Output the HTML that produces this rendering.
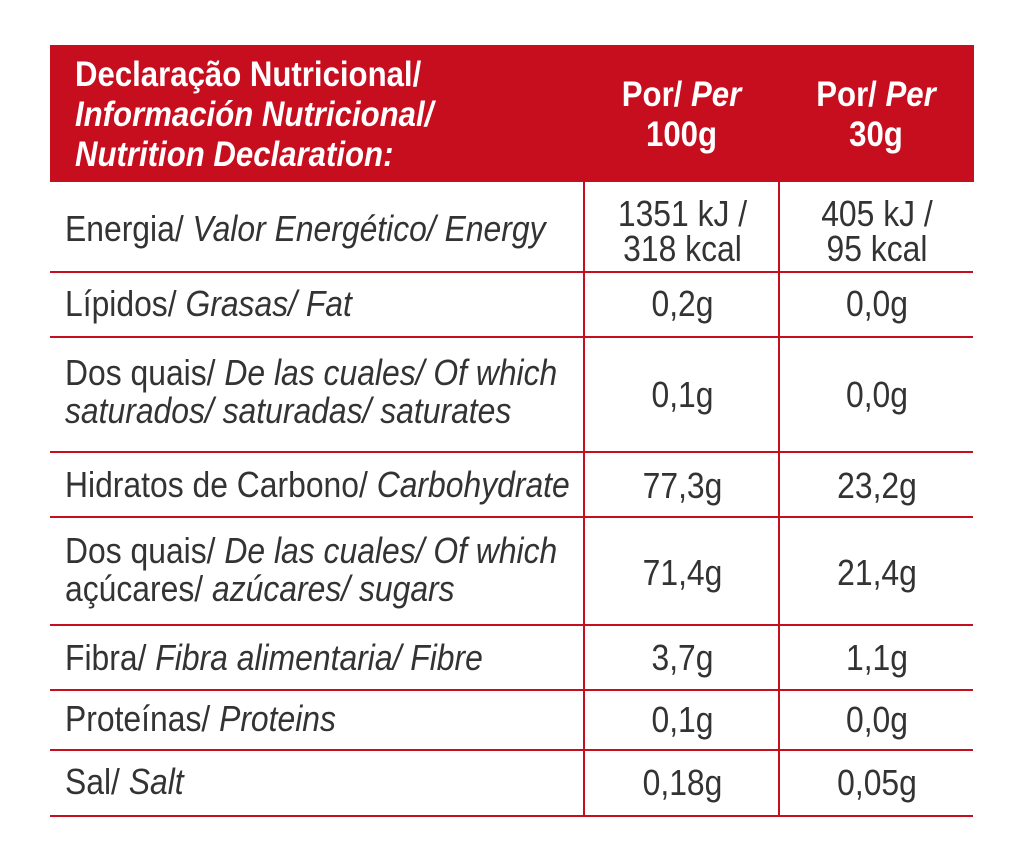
<!DOCTYPE html>
<html><head><meta charset="utf-8"><style>
body{margin:0;background:#fff;width:1024px;height:863px;position:relative;overflow:hidden;font-family:"Liberation Sans",sans-serif;color:#333}
.hdr{position:absolute;left:50px;top:45px;width:924px;height:137px;background:#c70e1f}
.h{position:absolute;color:#fff;font-weight:bold;font-size:35px;line-height:40px;white-space:nowrap}
.hl{position:absolute;left:50px;width:923px;height:2px;background:#c70e1f}
.vl{position:absolute;top:182px;height:634px;width:2px;background:#c70e1f}
.t{position:absolute;left:65px;font-size:36px;line-height:38px;white-space:nowrap;transform:scaleX(0.885);transform-origin:0 0}
.c{position:absolute;font-size:36px;line-height:35px;text-align:center;white-space:nowrap;transform:scaleX(0.885)}
i{font-style:italic}
</style></head><body>
<div class="hdr"></div>
<div class="h" style="left:75px;top:55px;transform:scaleX(0.89);transform-origin:0 0">Declaração Nutricional/<br><i>Información Nutricional/<br>Nutrition Declaration:</i></div>
<div class="h" style="left:584px;width:195px;text-align:center;top:75px;transform:scaleX(0.89)">Por/ <i>Per</i><br>100g</div>
<div class="h" style="left:779px;width:194px;text-align:center;top:75px;transform:scaleX(0.89)">Por/ <i>Per</i><br>30g</div>
<div class="vl" style="left:583px"></div>
<div class="vl" style="left:778px"></div>
<div class="hl" style="top:271px"></div>
<div class="hl" style="top:336px"></div>
<div class="hl" style="top:451px"></div>
<div class="hl" style="top:516px"></div>
<div class="hl" style="top:624px"></div>
<div class="hl" style="top:689px"></div>
<div class="hl" style="top:749px"></div>
<div class="hl" style="top:815px"></div>

<div class="t" style="top:210px">Energia/ <i>Valor Energético/ Energy</i></div>
<div class="c" style="left:585px;width:195px;top:196px">1351 kJ /<br>318 kcal</div>
<div class="c" style="left:780px;width:194px;top:196px">405 kJ /<br>95 kcal</div>

<div class="t" style="top:285px">Lípidos/ <i>Grasas/ Fat</i></div>
<div class="c" style="left:585px;width:195px;top:286px">0,2g</div>
<div class="c" style="left:780px;width:194px;top:286px">0,0g</div>

<div class="t" style="top:354px">Dos quais/ <i>De las cuales/ Of which</i><br><i>saturados/ saturadas/ saturates</i></div>
<div class="c" style="left:585px;width:195px;top:377px">0,1g</div>
<div class="c" style="left:780px;width:194px;top:377px">0,0g</div>

<div class="t" style="top:466px">Hidratos de Carbono/ <i>Carbohydrate</i></div>
<div class="c" style="left:585px;width:195px;top:468px">77,3g</div>
<div class="c" style="left:780px;width:194px;top:468px">23,2g</div>

<div class="t" style="top:532px">Dos quais/ <i>De las cuales/ Of which</i><br>açúcares/ <i>azúcares/ sugars</i></div>
<div class="c" style="left:585px;width:195px;top:555px">71,4g</div>
<div class="c" style="left:780px;width:194px;top:555px">21,4g</div>

<div class="t" style="top:639px">Fibra/ <i>Fibra alimentaria/ Fibre</i></div>
<div class="c" style="left:585px;width:195px;top:640px">3,7g</div>
<div class="c" style="left:780px;width:194px;top:640px">1,1g</div>

<div class="t" style="top:700px">Proteínas/ <i>Proteins</i></div>
<div class="c" style="left:585px;width:195px;top:702px">0,1g</div>
<div class="c" style="left:780px;width:194px;top:702px">0,0g</div>

<div class="t" style="top:763px">Sal/ <i>Salt</i></div>
<div class="c" style="left:585px;width:195px;top:765px">0,18g</div>
<div class="c" style="left:780px;width:194px;top:765px">0,05g</div>
</body></html>
